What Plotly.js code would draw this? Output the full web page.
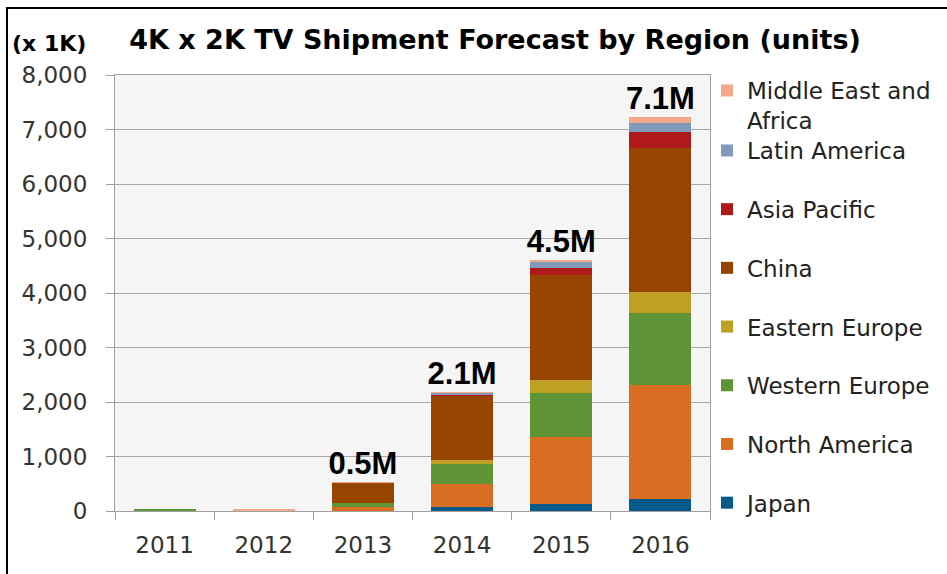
<!DOCTYPE html>
<html>
<head>
<meta charset="utf-8">
<script src="https://cdn.plot.ly/plotly-3.0.1.min.js"></script>
<style>
  html, body { margin: 0; padding: 0; background: #ffffff; }
  #chart { width: 947px; height: 574px; }
  #frame { position: absolute; left: 6px; top: 7px; width: 960px; height: 600px;
           border-top: 2px solid #000; border-left: 2px solid #000; pointer-events: none; }
</style>
</head>
<body>
<div id="chart"></div>
<div id="frame"></div>
<script>
// Categories
const years = ['2011', '2012', '2013', '2014', '2015', '2016'];

// Series values (thousands of units)
const japan            = [0,  0,   5,   73,  134,  215];
const northAmerica     = [0,  5,   65,  416, 1223, 2092];
const westernEurope    = [45, 0,   70,  378, 807,  1321];
const easternEurope    = [0,  0,   10,  73,  245,  385];
const china            = [0,  0,   355, 1169, 1921, 2654];
const asiaPacific      = [0,  0,   5,   25,  134,  288];
const latinAmerica     = [0,  0,   5,   25,  110,  171];
const middleEastAfrica = [0,  40,  15,  25,  37,   105];

// Total labels above bars
const totalLabels = ['', '', '0.5M', '2.1M', '4.5M', '7.1M'];

// Y tick values
const yTicks = [0, 1000, 2000, 3000, 4000, 5000, 6000, 7000, 8000];

const seriesNames = ['Japan', 'North America', 'Western Europe', 'Eastern Europe',
                     'China', 'Asia Pacific', 'Latin America', 'Middle East and<br>Africa'];
const seriesValues = [japan, northAmerica, westernEurope, easternEurope,
                      china, asiaPacific, latinAmerica, middleEastAfrica];
const seriesColors = ['#075a8a', '#d96d22', '#5e9436', '#bea022',
                      '#974400', '#b0191b', '#8199bb', '#f4a88a'];

const traces = seriesNames.map((name, i) => ({
  type: 'bar',
  name: name,
  x: years,
  y: seriesValues[i],
  marker: { color: seriesColors[i], line: { width: 0 } },
  legendgroup: 'g' + i,
  legendrank: 100 - i,
  legend: i === 7 ? 'legend2' : 'legend',
  hoverinfo: 'x+y+name'
}));

const totals = years.map((_, j) => seriesValues.reduce((s, arr) => s + arr[j], 0));

traces.push({
  type: 'scatter',
  mode: 'text',
  x: years,
  y: totals,
  text: totalLabels,
  textposition: 'top center',
  textfont: { family: 'Liberation Sans, Arial, sans-serif', size: 31, color: '#000', weight: 'bold' },
  showlegend: false,
  hoverinfo: 'skip',
  cliponaxis: false
});

const annotations = [{
  xref: 'paper', yref: 'paper', x: (49 - 115) / 595, y: (511 - 44) / 436,
  xanchor: 'center', yanchor: 'middle', showarrow: false,
  text: '(x 1K)',
  font: { family: 'DejaVu Sans, sans-serif', size: 22, color: '#000', weight: 'bold' }
}];

const legendFont = { family: 'DejaVu Sans, sans-serif', size: 23, color: '#222' };

const layout = {
  width: 947, height: 574,
  margin: { l: 115, r: 237, t: 75, b: 63, pad: 0, autoexpand: false },
  paper_bgcolor: '#ffffff',
  plot_bgcolor: '#f5f5f5',
  barmode: 'stack',
  bargap: 0.375,
  title: {
    text: '4K x 2K TV Shipment Forecast by Region (units)',
    font: { family: 'DejaVu Sans, sans-serif', size: 27, color: '#000', weight: 'bold' },
    x: 495 / 947, xanchor: 'center', xref: 'container',
    y: 1 - 40 / 574, yanchor: 'middle', yref: 'container'
  },
  xaxis: {
    type: 'category',
    categoryorder: 'array', categoryarray: years,
    range: [-0.5, 5.5],
    tickson: 'boundaries',
    ticks: 'outside', ticklen: 8, tickcolor: '#a0a0a0', tickwidth: 1,
    showline: true, linecolor: '#a0a0a0', linewidth: 1, mirror: true,
    showgrid: false,
    ticklabelstandoff: 13,
    tickfont: { family: 'DejaVu Sans, sans-serif', size: 23, color: '#333' }
  },
  yaxis: {
    range: [0, 8000],
    tickvals: yTicks,
    tickformat: ',d',
    ticks: 'outside', ticklen: 8, tickcolor: '#a0a0a0', tickwidth: 1,
    showline: true, linecolor: '#a0a0a0', linewidth: 1, mirror: true,
    showgrid: true, gridcolor: '#a8a8a8', gridwidth: 1,
    zeroline: false,
    ticklabelstandoff: 14,
    tickfont: { family: 'DejaVu Sans, sans-serif', size: 23, color: '#333' }
  },
  legend: {
    x: (707 - 115) / 595, xanchor: 'left',
    y: (511 - 129) / 436, yanchor: 'top',
    traceorder: 'grouped',
    tracegroupgap: 25.8,
    bgcolor: 'rgba(0,0,0,0)',
    font: legendFont,
    itemwidth: 30
  },
  legend2: {
    x: (707 - 115) / 595, xanchor: 'left',
    y: (511 - 69) / 436, yanchor: 'top',
    valign: 'top',
    bgcolor: 'rgba(0,0,0,0)',
    font: legendFont,
    itemwidth: 30
  },
  annotations: annotations,
  showlegend: true
};

Plotly.newPlot('chart', traces, layout, { displayModeBar: false, staticPlot: true });
</script>
</body>
</html>
